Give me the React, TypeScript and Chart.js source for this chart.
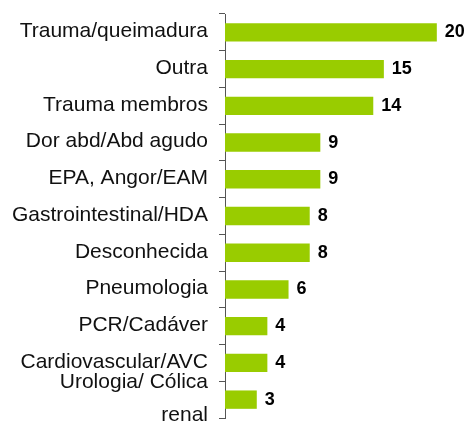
import React, { useEffect, useRef } from 'react';
import { Chart, registerables } from 'chart.js';

Chart.register(...registerables);

const categories: (string | string[])[] = [
  'Trauma/queimadura',
  'Outra',
  'Trauma membros',
  'Dor abd/Abd agudo',
  'EPA, Angor/EAM',
  'Gastrointestinal/HDA',
  'Desconhecida',
  'Pneumologia',
  'PCR/Cadáver',
  'Cardiovascular/AVC',
  ['Urologia/ Cólica', 'renal'],
];

const values: number[] = [20, 15, 14, 9, 9, 8, 8, 6, 4, 4, 3];

const FONT = '"Liberation Sans", Arial, sans-serif';

const valueLabels = {
  id: 'valueLabels',
  afterDatasetsDraw(chart: any) {
    const ctx = chart.ctx;
    const meta = chart.getDatasetMeta(0);
    ctx.save();
    ctx.font = `bold 18px ${FONT}`;
    ctx.fillStyle = '#000';
    ctx.textAlign = 'left';
    ctx.textBaseline = 'middle';
    meta.data.forEach((bar: any, i: number) => {
      ctx.fillText(String(values[i]), bar.x + 8, bar.y);
    });
    ctx.restore();
  },
};

export default function App() {
  const ref = useRef<HTMLCanvasElement | null>(null);

  useEffect(() => {
    if (!ref.current) return;
    const chart = new Chart(ref.current, {
      type: 'bar',
      data: {
        labels: categories,
        datasets: [
          {
            data: values,
            backgroundColor: '#99CC00',
            borderWidth: 0,
            categoryPercentage: 1,
            barPercentage: 0.5,
          },
        ],
      },
      options: {
        indexAxis: 'y',
        responsive: false,
        animation: false,
        layout: { padding: { top: 14, bottom: 4, left: 0, right: 13 } },
        plugins: {
          legend: { display: false },
          tooltip: { enabled: false },
        },
        scales: {
          x: {
            display: false,
            min: 0,
            max: 22,
          },
          y: {
            afterFit: (scale: any) => {
              scale.width = 225;
              scale.paddingTop = 0;
              scale.paddingBottom = 0;
            },
            grid: {
              display: true,
              drawOnChartArea: false,
              drawTicks: true,
              tickLength: 6,
              color: '#555',
              offset: true,
            },
            border: { display: true, color: '#555', width: 1 },
            ticks: {
              autoSkip: false,
              padding: 11,
              labelOffset: -1,
              color: '#111',
              font: { family: FONT, size: 21, lineHeight: 1.55 },
            },
          },
        },
      },
      plugins: [valueLabels],
    });
    return () => chart.destroy();
  }, []);

  return (
    <div style={{ position: 'absolute', left: 0, top: 0, width: 471, height: 422, background: '#fff' }}>
      <canvas ref={ref} width={471} height={422} />
    </div>
  );
}
